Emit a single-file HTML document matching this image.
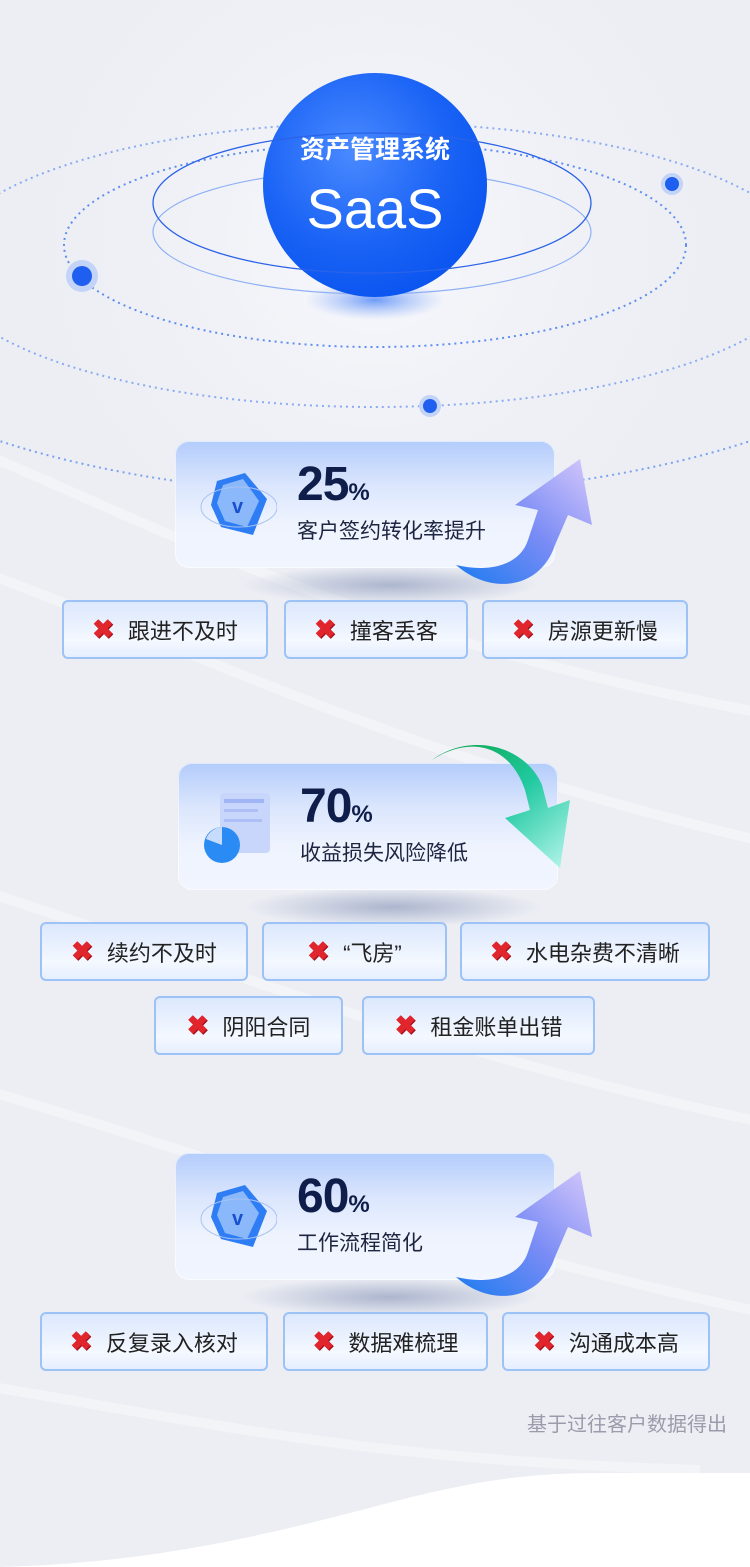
<!DOCTYPE html>
<html><head><meta charset="utf-8">
<style>
*{margin:0;padding:0;box-sizing:border-box}
body{width:750px;height:1567px;overflow:hidden;position:relative;background:#eceef4;font-family:"Liberation Sans","Noto Sans CJK SC",sans-serif}
.abs{position:absolute}
.card{position:absolute;width:380px;height:127px;border-radius:14px;background:linear-gradient(180deg,#b3ccfb 0%,#dbe6fd 35%,#eef3fe 65%,#f1f5ff 100%);box-shadow:0 0 0 1px rgba(255,255,255,.6) inset}
.shadow{position:absolute;width:300px;height:40px;border-radius:50%;background:radial-gradient(ellipse at center,rgba(120,135,175,.55),rgba(150,160,190,0) 70%)}
.num{position:absolute;left:122px;top:16px;font-size:48px;font-weight:bold;color:#0f1d4a;letter-spacing:-1px}
.num small{font-size:24px;letter-spacing:0}
.sub{position:absolute;left:122px;top:74px;font-size:21px;color:#1d2540}
.tag{position:absolute;height:59px;border:2px solid #9cc2f6;border-radius:6px;background:linear-gradient(180deg,#dce8fd,#f4f8ff 70%,#e6efff);font-size:22px;color:#222;display:flex;align-items:center;justify-content:center;gap:14px}
.x{color:#e0252c;font-weight:bold;font-size:26px;text-shadow:1px 1px 0 #9e1018}
</style></head><body>
<svg class="abs" style="left:0;top:0" width="750" height="1567">
<defs>
<radialGradient id="bgglow" cx="375" cy="240" r="420" gradientUnits="userSpaceOnUse"><stop offset="0" stop-color="#f8f9fd"/><stop offset="1" stop-color="#eceef4" stop-opacity="0"/></radialGradient>
<radialGradient id="sph" cx="0.4" cy="0.35" r="0.7"><stop offset="0" stop-color="#4a8aff"/><stop offset="0.6" stop-color="#1a63f5"/><stop offset="1" stop-color="#0a54f0"/></radialGradient>
<radialGradient id="sphsh" cx="0.5" cy="0.5" r="0.5"><stop offset="0" stop-color="#6f9cf8"/><stop offset="1" stop-color="#9ab8f8" stop-opacity="0"/></radialGradient>
<linearGradient id="upA" x1="0" y1="1" x2="1" y2="0"><stop offset="0" stop-color="#1c7bf0"/><stop offset="0.5" stop-color="#7a8cf5"/><stop offset="1" stop-color="#d6c8fb"/></linearGradient>
<linearGradient id="dnA" x1="0" y1="0" x2="1" y2="1"><stop offset="0" stop-color="#0aa043"/><stop offset="0.5" stop-color="#20c9a0"/><stop offset="1" stop-color="#b9f6ee"/></linearGradient>
<clipPath id="lower"><rect x="0" y="240" width="750" height="400"/></clipPath>
</defs>
<rect width="750" height="1567" fill="url(#bgglow)"/>
<g fill="none" stroke="#ffffff" stroke-opacity=".35" stroke-width="10">
<path d="M-50,440 C150,520 350,640 800,720"/>
<path d="M-50,560 C200,650 400,760 800,850"/>
<path d="M-50,880 C200,960 450,1060 800,1130"/>
<path d="M-50,1080 C200,1150 450,1250 800,1320"/>
<path d="M-50,1380 C200,1420 350,1460 700,1470"/>
</g>
<path d="M0,1567 C180,1562 300,1525 400,1500 C480,1480 530,1473 600,1473 L750,1473 L750,1567Z" fill="#fff"/>
<g fill="none" stroke="#5f8ef0" stroke-width="2" stroke-dasharray="2 4">
<ellipse cx="375" cy="245" rx="311" ry="102"/>
<ellipse cx="375" cy="265" rx="435" ry="142" stroke-opacity=".7"/>
<ellipse cx="375" cy="240" rx="610" ry="255" stroke-opacity=".8" clip-path="url(#lower)"/>
</g>
<ellipse cx="375" cy="300" rx="70" ry="20" fill="url(#sphsh)"/>
<ellipse cx="372" cy="232" rx="219" ry="62" fill="none" stroke="#8fb0f5" stroke-width="1.2"/>
<circle cx="375" cy="185" r="112" fill="url(#sph)"/>
<ellipse cx="372" cy="203" rx="219" ry="70" fill="none" stroke="#2a62e8" stroke-width="1.3"/>
<circle cx="82" cy="276" r="16" fill="#c3d4f8"/><circle cx="82" cy="276" r="10" fill="#1f5ff0"/>
<circle cx="672" cy="184" r="11" fill="#c3d4f8"/><circle cx="672" cy="184" r="7" fill="#1f5ff0"/>
<circle cx="430" cy="406" r="11" fill="#c3d4f8"/><circle cx="430" cy="406" r="7" fill="#1f5ff0"/>
<text x="375" y="158" text-anchor="middle" font-size="25" font-weight="bold" fill="#fff" font-family="Liberation Sans,Noto Sans CJK SC,sans-serif">资产管理系统</text>
<text x="375" y="228" text-anchor="middle" font-size="56" fill="#fff" font-family="Liberation Sans,sans-serif">SaaS</text>
</svg>

<div class="shadow" style="left:240px;top:565px"></div>
<div class="card" style="left:175px;top:441px">
<svg class="abs" style="left:22px;top:28px" width="80" height="80"><polygon points="20,12 48,4 70,30 56,66 24,58 14,36" fill="#2f7df5"/><polygon points="26,16 46,10 62,32 50,58 28,52 20,34" fill="#8ab8fb"/><text x="35" y="44" font-size="20" font-weight="bold" fill="#1a50d0" font-family="Liberation Sans">v</text><ellipse cx="42" cy="38" rx="38" ry="20" fill="none" stroke="#a9c2f3" stroke-width="1"/></svg>
<div class="num">25<small>%</small></div><div class="sub">客户签约转化率提升</div>
</div>
<svg class="abs" style="left:450px;top:455px" width="150" height="135"><path d="M6,110 C40,140 90,135 105,90 L118,60 L142,70 L130,4 L65,50 L88,55 L78,85 C70,110 40,118 6,110Z" fill="url(#upA)"/></svg>

<div class="tag" style="left:62px;top:600px;width:206px"><span class="x">✖</span>跟进不及时</div>
<div class="tag" style="left:284px;top:600px;width:184px"><span class="x">✖</span>撞客丢客</div>
<div class="tag" style="left:482px;top:600px;width:206px"><span class="x">✖</span>房源更新慢</div>

<div class="shadow" style="left:243px;top:887px"></div>
<div class="card" style="left:178px;top:763px">
<svg class="abs" style="left:24px;top:26px" width="80" height="80"><rect x="18" y="4" width="50" height="60" rx="4" fill="#c9d6fb"/><rect x="22" y="10" width="40" height="4" fill="#9fb5f5"/><rect x="22" y="20" width="34" height="3" fill="#aebff7"/><rect x="22" y="30" width="38" height="3" fill="#aebff7"/><circle cx="20" cy="56" r="18" fill="#2b8bf5"/><path d="M20,56 L4,50 A18,18 0 0 1 20,38Z" fill="#c7dcfc"/></svg>
<div class="num">70<small>%</small></div><div class="sub">收益损失风险降低</div>
</div>
<svg class="abs" style="left:430px;top:740px" width="145" height="135"><path d="M2,20 C40,-5 80,5 95,50 L100,70 L75,78 L130,128 L140,60 L118,68 L112,45 C95,5 40,-8 2,20Z" fill="url(#dnA)"/></svg>

<div class="tag" style="left:40px;top:922px;width:208px"><span class="x">✖</span>续约不及时</div>
<div class="tag" style="left:262px;top:922px;width:185px"><span class="x">✖</span>“飞房”</div>
<div class="tag" style="left:460px;top:922px;width:250px"><span class="x">✖</span>水电杂费不清晰</div>
<div class="tag" style="left:154px;top:996px;width:189px"><span class="x">✖</span>阴阳合同</div>
<div class="tag" style="left:362px;top:996px;width:233px"><span class="x">✖</span>租金账单出错</div>

<div class="shadow" style="left:240px;top:1277px"></div>
<div class="card" style="left:175px;top:1153px">
<svg class="abs" style="left:22px;top:28px" width="80" height="80"><polygon points="20,12 48,4 70,30 56,66 24,58 14,36" fill="#2f7df5"/><polygon points="26,16 46,10 62,32 50,58 28,52 20,34" fill="#8ab8fb"/><text x="35" y="44" font-size="20" font-weight="bold" fill="#1a50d0" font-family="Liberation Sans">v</text><ellipse cx="42" cy="38" rx="38" ry="20" fill="none" stroke="#a9c2f3" stroke-width="1"/></svg>
<div class="num">60<small>%</small></div><div class="sub">工作流程简化</div>
</div>
<svg class="abs" style="left:450px;top:1167px" width="150" height="135"><path d="M6,110 C40,140 90,135 105,90 L118,60 L142,70 L130,4 L65,50 L88,55 L78,85 C70,110 40,118 6,110Z" fill="url(#upA)"/></svg>

<div class="tag" style="left:40px;top:1312px;width:228px"><span class="x">✖</span>反复录入核对</div>
<div class="tag" style="left:283px;top:1312px;width:205px"><span class="x">✖</span>数据难梳理</div>
<div class="tag" style="left:502px;top:1312px;width:208px"><span class="x">✖</span>沟通成本高</div>

<div class="abs" style="right:23px;top:1408px;font-size:20px;color:#9a9cab">基于过往客户数据得出</div>
</body></html>
